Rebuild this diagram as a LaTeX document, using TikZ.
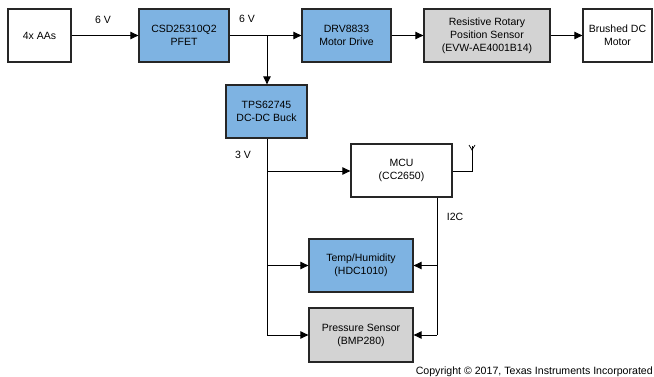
\documentclass[tikz,border=0pt]{standalone}
\usepackage{fontspec}
\setmainfont{Liberation Sans}
\usetikzlibrary{arrows.meta}
\definecolor{tiblue}{HTML}{7EB3E2}
\definecolor{tigray}{HTML}{D3D3D3}
\tikzset{
  blk/.style={draw=black!85, line width=1.3pt, inner sep=0pt, align=center,
    font=\fontsize{10.5}{13}\selectfont},
  conn/.style={draw=black, line width=0.9pt},
  arr/.style={conn, -{Triangle[length=8pt,width=7.5pt]}},
  lbl/.style={font=\fontsize{10.5}{12}\selectfont, inner sep=0pt},
}
\begin{document}
\begin{tikzpicture}[x=1pt,y=-1pt]
\useasboundingbox (0,0) rectangle (654,377);
\node[blk, fill=white, minimum width=63pt, minimum height=53pt] (aa) at (39.5,35.5) {4x AAs};
\node[blk, fill=tiblue, minimum width=90pt, minimum height=53pt] (fet) at (184,35.5) {CSD25310Q2\\PFET};
\node[blk, fill=tiblue, minimum width=89pt, minimum height=53pt] (drv) at (346.5,35.5) {DRV8833\\Motor Drive};
\node[blk, fill=tigray, minimum width=126pt, minimum height=53pt] (res) at (487,35.5) {Resistive Rotary\\Position Sensor\\(EVW-AE4001B14)};
\node[blk, fill=white, minimum width=69pt, minimum height=53pt] (mot) at (617.5,35.5) {Brushed DC\\Motor};
\node[blk, fill=tiblue, minimum width=81pt, minimum height=53pt] (tps) at (266.5,111.5) {TPS62745\\DC-DC Buck};
\node[blk, fill=white, minimum width=101pt, minimum height=53pt] (mcu) at (401.5,170.5) {MCU\\(CC2650)};
\node[blk, fill=tiblue, minimum width=104pt, minimum height=53pt] (hdc) at (361,265.5) {Temp/Humidity\\(HDC1010)};
\node[blk, fill=tigray, minimum width=104pt, minimum height=54pt] (bmp) at (361,335) {Pressure Sensor\\(BMP280)};

\draw[arr] (aa.east) -- (fet.west);
\draw[arr] (fet.east) -- (drv.west);
\draw[arr] (drv.east) -- (res.west);
\draw[arr] (res.east) -- (mot.west);
\coordinate (br) at (267,35.5);
\draw[arr] (br) -- (tps.north -| br);

\coordinate (pwr) at (267,171);
\coordinate (pwrb) at (267,335);
\draw[conn] (tps.south -| pwr) -- (pwrb);
\draw[arr] (pwr) -- (mcu.west |- pwr);
\draw[arr] (267,265.5) -- (hdc.west);
\draw[arr] (pwrb) -- (bmp.west);

\coordinate (i2c) at (437,335);
\draw[conn] (mcu.south -| i2c) -- (i2c);
\draw[arr] (437,265.5) -- (hdc.east);
\draw[arr] (i2c) -- (bmp.east);

\coordinate (ant) at (472,146);
\draw[conn] (mcu.east |- pwr) -- (472,171) -- (ant);
\draw[conn, line width=0.7pt] (469,145) -- (472,150) -- (475,145);

\node[lbl] (l1) at (103,20) {6 V};
\node[lbl] (l2) at (247,19) {6 V};
\node[lbl] (l3) at (243,155) {3 V};
\node[lbl] (l4) at (455,217) {I2C};
\node[font=\fontsize{10.6}{12}\selectfont, inner sep=0pt, anchor=base east] (cr) at (653,374) {Copyright © 2017, Texas Instruments Incorporated};
\end{tikzpicture}
\end{document}
